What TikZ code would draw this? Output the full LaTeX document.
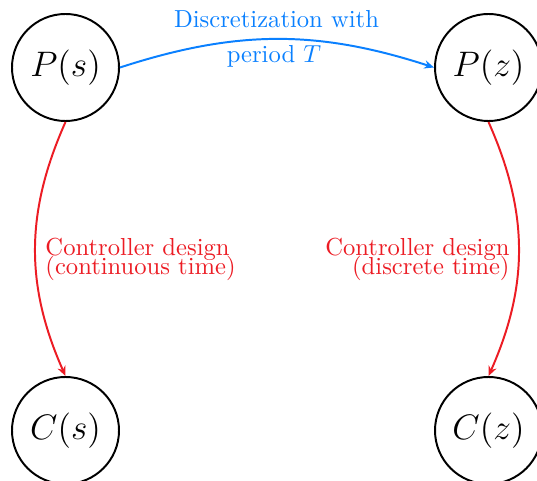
\documentclass[tikz,border=0pt]{standalone}
\usetikzlibrary{arrows.meta}
\definecolor{linkblue}{RGB}{10,128,255}
\definecolor{designred}{RGB}{236,28,36}
\begin{document}
\begin{tikzpicture}[x=0.4065pt,y=-0.4065pt,
  sys/.style={draw,thick,circle,minimum size=43.5pt,inner sep=0pt,font=\Large},
  discarrow/.style={draw=linkblue,thick,-{Stealth[length=4pt,width=3.4pt]}},
  designarrow/.style={draw=designred,thick,-{Stealth[length=4pt,width=3.4pt]}},
  disclabel/.style={text=linkblue,align=center,inner sep=0pt},
  designlabel/.style={text=designred,inner sep=0pt}]
  \useasboundingbox (0,0) rectangle (537,481);
  % plants and controllers
  \node[sys] (ps) at (65.5,67.5) {$P(s)$};
  \node[sys] (pz) at (488.5,67.5) {$P(z)$};
  \node[sys] (cs) at (65.5,430.5) {$C(s)$};
  \node[sys] (cz) at (488.5,430.5) {$C(z)$};
  % connectors
  \draw[discarrow] (ps.east) to[bend left=18] (pz.west);
  \draw[designarrow] (ps.south) to[bend right=24] (cs.north);
  \draw[designarrow] (pz.south) to[bend left=24] (cz.north);
  % labels (base anchor sits on the last line)
  \node[disclabel,anchor=base] (dl1) at (276.5,28) {Discretization with};
  \node[disclabel,anchor=base] (dl2) at (274,63) {period $T$};
  \node[designlabel,anchor=base west,align=left] (cl) at (45,275)
    {Controller design\\[-4pt](continuous time)};
  \node[designlabel,anchor=base east,align=right] (dr) at (510,275)
    {Controller design\\[-4pt](discrete time)};
\end{tikzpicture}
\end{document}
